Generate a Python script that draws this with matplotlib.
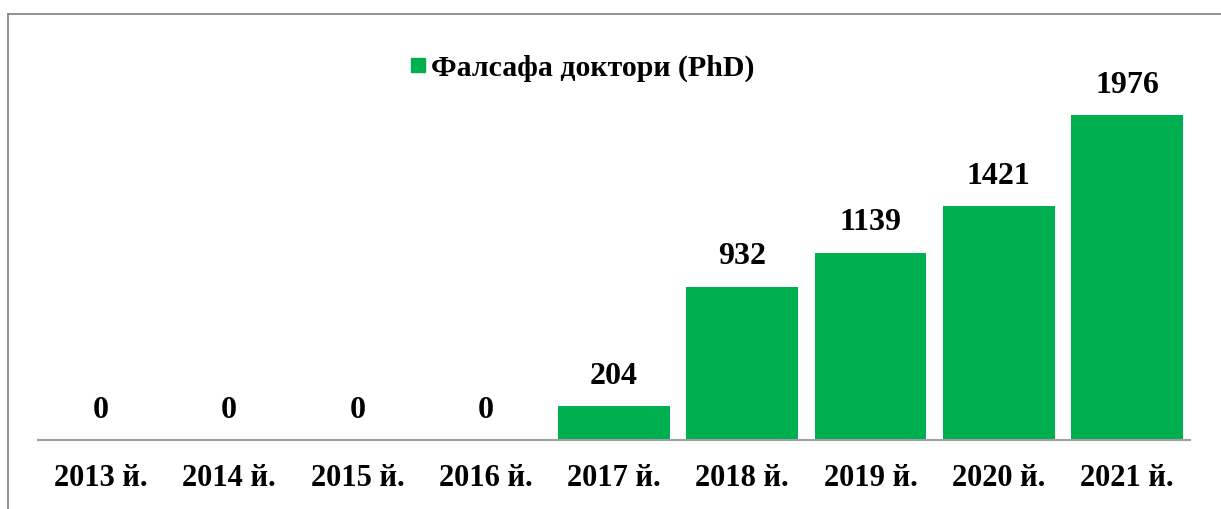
import matplotlib
matplotlib.use('Agg')
import matplotlib.pyplot as plt
from matplotlib.lines import Line2D
import numpy as np

# chart data
years = ['2013 й.', '2014 й.', '2015 й.', '2016 й.', '2017 й.',
         '2018 й.', '2019 й.', '2020 й.', '2021 й.']
phdCounts = [0, 0, 0, 0, 204, 932, 1139, 1421, 1976]
seriesName = 'Фалсафа доктори (PhD)'

barColor = '#00B050'
plt.rcParams['font.family'] = ['Liberation Serif', 'DejaVu Serif']
plt.rcParams['font.weight'] = 'bold'

W, H = 1221, 509
fig = plt.figure(figsize=(W / 100, H / 100), dpi=100)
ax = fig.add_axes([38 / W, (H - 440) / H, (1190 - 38) / W, (440 - 40) / H])

xPos = np.arange(len(years))
bars = ax.bar(xPos, phdCounts, width=0.87, color=barColor)

for x, v in zip(xPos, phdCounts):
    ax.annotate(str(v), (x, v), xytext=(0, 11), textcoords='offset points',
                ha='center', va='bottom', fontsize=23, fontweight='bold')

ax.set_xlim(-0.49, 8.49)
ax.set_ylim(0, 2432)
ax.set_xticks(xPos)
ax.set_xticklabels(years, fontsize=22, fontweight='bold')
ax.tick_params(axis='x', length=0, pad=17)
ax.set_yticks([])
for side in ['top', 'right', 'left']:
    ax.spines[side].set_visible(False)
ax.spines['bottom'].set_color('#A0A0A0')
ax.spines['bottom'].set_linewidth(1.5)

handle = Line2D([], [], marker='s', linestyle='none', markersize=10,
                markerfacecolor=barColor, markeredgecolor=barColor)
fig.legend([handle], [seriesName], loc='center', bbox_to_anchor=(581 / W, (H - 68) / H),
           frameon=False, handletextpad=0.1, handlelength=0.7,
           prop={'weight': 'bold', 'size': 21.5})

# frame lines of the original picture (top and left)
fig.add_artist(Line2D([8 / W, 1], [(H - 14) / H, (H - 14) / H], color='#808080', linewidth=1.2))
fig.add_artist(Line2D([8 / W, 8 / W], [0, (H - 14) / H], color='#808080', linewidth=1.2))

fig.savefig('out.png', dpi=100)
